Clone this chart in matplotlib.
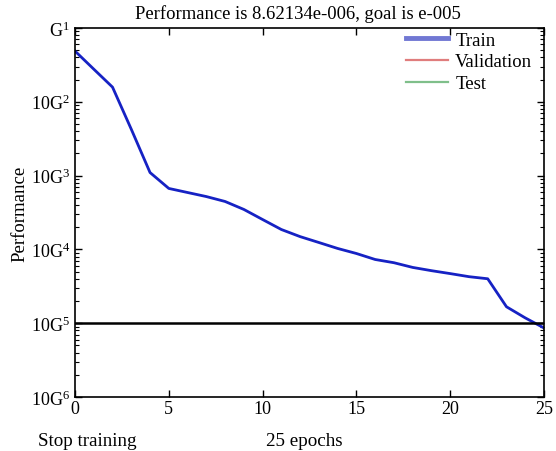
import matplotlib
matplotlib.use("Agg")
import matplotlib.pyplot as plt
from matplotlib.lines import Line2D
import numpy as np

epochs = list(range(26))
train_perf = [0.0487, 0.0277, 0.0158, 0.00425, 0.00110, 0.00067, 0.00059, 0.00052,
              0.000446, 0.000348, 0.000254, 0.000186, 0.000149, 0.000124, 0.000103,
              8.8e-5, 7.3e-5, 6.6e-5, 5.7e-5, 5.15e-5, 4.7e-5, 4.27e-5, 4.0e-5,
              1.67e-5, 1.18e-5, 8.62e-6]
goal = 1e-5
ytick_vals = [1e-1, 1e-2, 1e-3, 1e-4, 1e-5, 1e-6]
ytick_labels = [r'G$^{1}$', r'10G$^{2}$', r'10G$^{3}$', r'10G$^{4}$', r'10G$^{5}$', r'10G$^{6}$']
xtick_vals = [0, 5, 10, 15, 20, 25]
title = "Performance is 8.62134e-006, goal is e-005"
legend_labels = ["Train", "Validation", "Test"]

plt.rcParams['font.family'] = ['Liberation Serif', 'DejaVu Serif']
plt.rcParams['mathtext.fontset'] = 'custom'
plt.rcParams['mathtext.rm'] = 'Liberation Serif'
plt.rcParams['mathtext.it'] = 'Liberation Serif:italic'
plt.rcParams['mathtext.bf'] = 'Liberation Serif:bold'

fig = plt.figure(figsize=(5.56, 4.52), dpi=100)
ax = fig.add_axes([75/556, 1-398/452, (544-75)/556, (398-29)/452])

ax.plot(epochs, train_perf, color='#1622c4', lw=2.0)
ax.axhline(goal, color='black', lw=1.8)

ax.set_yscale('log')
ax.set_ylim(1e-6, 1e-1)
ax.set_xlim(0, 25)
ax.set_yticks(ytick_vals)
ax.set_yticklabels(ytick_labels)
ax.set_xticks(xtick_vals)
ax.set_xticklabels([str(v) for v in xtick_vals])
ax.tick_params(which='both', direction='in', top=True, right=True, labelsize=13)
ax.tick_params(which='major', length=5, width=1)
ax.tick_params(which='minor', length=3, width=0.8)
ax.tick_params(axis='x', pad=2)
for s in ax.spines.values():
    s.set_linewidth(1.2)

fig.text(298/556, 1-14/452, title, fontsize=13.4, ha='center', va='center')
ax.set_ylabel("Performance", fontsize=13.5, labelpad=2)

handles = [Line2D([], [], color='#5860cc', lw=3.5, alpha=0.85),
           Line2D([], [], color='#e07d7d', lw=1.6),
           Line2D([], [], color='#7fbf8a', lw=1.6)]
ax.legend(handles, legend_labels, loc='upper left', frameon=False,
          bbox_to_anchor=(406/556, 1-32.5/452), bbox_transform=fig.transFigure,
          fontsize=13.5, handlelength=2.25, handletextpad=0.37, labelspacing=0.25,
          borderpad=0.0, borderaxespad=0.0)

fig.text(38/556, 1-442/452, "Stop training", fontsize=13.7, va='center', ha='left')
fig.text(266/556, 1-442/452, "25 epochs", fontsize=13.7, va='center', ha='left')

fig.savefig("out.png", dpi=100)
